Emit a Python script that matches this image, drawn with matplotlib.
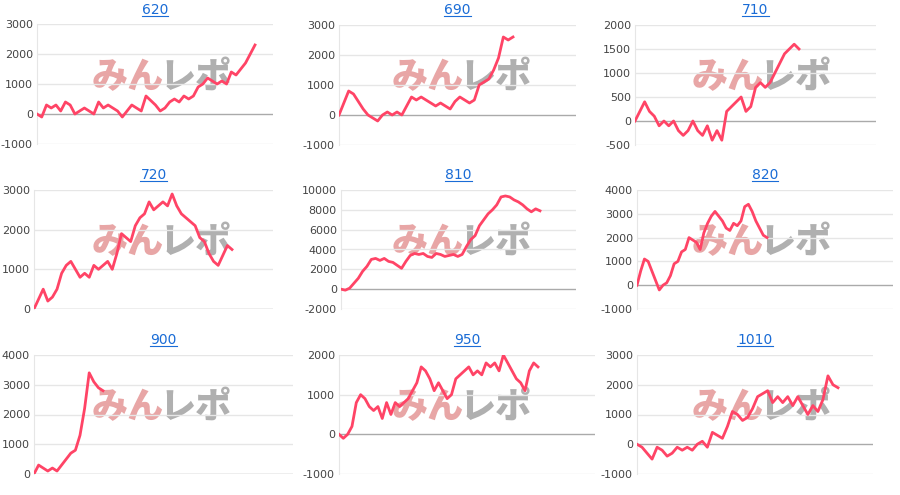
import matplotlib
matplotlib.use("Agg")
import matplotlib.pyplot as plt
from matplotlib.lines import Line2D

titles = ["620", "690", "710", "720", "810", "820", "900", "950", "1010"]

s620 = [0, -100, 300, 200, 300, 100, 400, 300, 0, 100, 200, 100, 0, 400, 200, 300, 200, 100, -100, 100,
        300, 200, 100, 600, 450, 300, 100, 200, 400, 500, 400, 600, 500, 600, 900, 1000, 1200, 1100, 1000,
        1100, 1000, 1400, 1300, 1500, 1700, 2000, 2300]
s690 = [0, 400, 800, 700, 450, 200, 0, -100, -200, 0, 100, 0, 100, 0, 300, 600, 500, 600, 500, 400, 300,
        400, 300, 200, 450, 600, 500, 400, 500, 1000, 1100, 1200, 1500, 1900, 2600, 2500, 2600]
s710 = [0, 200, 400, 200, 100, -100, 0, -100, 0, -200, -300, -200, 0, -200, -300, -100, -400, -200, -400,
        200, 300, 400, 500, 200, 300, 700, 800, 700, 800, 1000, 1200, 1400, 1500, 1600, 1500]
s720 = [0, 250, 500, 200, 300, 500, 900, 1100, 1200, 1000, 800, 900, 800, 1100, 1000, 1100, 1200, 1000,
        1400, 1900, 1800, 1700, 2100, 2300, 2400, 2700, 2500, 2600, 2700, 2600, 2900, 2600, 2400, 2300,
        2200, 2100, 1800, 1700, 1400, 1200, 1100, 1350, 1600, 1500]
s810 = [0, -100, 100, 600, 1100, 1800, 2300, 3000, 3100, 2900, 3100, 2800, 2700, 2400, 2100, 2800, 3400,
        3600, 3500, 3600, 3300, 3200, 3600, 3500, 3300, 3400, 3500, 3300, 3500, 4300, 5000, 5400, 6400,
        7000, 7600, 8000, 8500, 9300, 9400, 9300, 9000, 8800, 8500, 8100, 7800, 8100, 7900]
s820 = [0, 600, 1100, 1000, 600, 200, -200, 0, 100, 400, 900, 1000, 1400, 1500, 2000, 1900, 1800, 1500,
        2200, 2600, 2900, 3100, 2900, 2700, 2400, 2300, 2600, 2500, 2700, 3300, 3400, 3100, 2700, 2400,
        2100, 2000]
s900 = [0, 300, 200, 100, 200, 100, 300, 500, 700, 800, 1300, 2200, 3400, 3100, 2900, 2800]
s950 = [0, -100, 0, 200, 800, 1000, 900, 700, 600, 700, 400, 800, 500, 800, 700, 800, 900, 1100, 1300,
        1700, 1600, 1400, 1100, 1300, 1100, 900, 1000, 1400, 1500, 1600, 1700, 1500, 1600, 1500, 1800,
        1700, 1800, 1600, 2000, 1800, 1600, 1400, 1300, 1100, 1600, 1800, 1700]
s1010 = [0, -100, -300, -500, -100, -200, -400, -300, -100, -200, -100, -200, 0, 100, -100, 400, 300, 200,
         600, 1100, 1000, 800, 900, 1200, 1600, 1700, 1800, 1400, 1600, 1400, 1600, 1300, 1600, 1300, 1000,
         1300, 1100, 1500, 2300, 2000, 1900]
series = [s620, s690, s710, s720, s810, s820, s900, s950, s1010]

yticks = [[-1000, 0, 1000, 2000, 3000], [-1000, 0, 1000, 2000, 3000], [-500, 0, 500, 1000, 1500, 2000],
          [0, 1000, 2000, 3000], [-2000, 0, 2000, 4000, 6000, 8000, 10000], [-1000, 0, 1000, 2000, 3000, 4000],
          [0, 1000, 2000, 3000, 4000], [-1000, 0, 1000, 2000], [-1000, 0, 1000, 2000, 3000]]

W, H = 900, 495
boxes = [(37, 273, 24, 144, 255), (339, 576, 25, 145, 513), (635, 876, 25, 145, 799),
         (34, 273, 190, 309, 232), (341, 576, 190, 309, 540), (637, 893, 190, 309, 767),
         (34, 293, 355, 474, 103), (339, 595, 355, 474, 538), (637, 873, 355, 474, 838)]
origins = [(0, 0), (300, 0), (600, 0), (0, 165), (300, 165), (600, 165), (0, 330), (300, 330), (600, 330)]

fig = plt.figure(figsize=(9, 4.95), dpi=100)
fig.patch.set_facecolor("white")
titles_txt = []
jp = ["Noto Sans CJK JP", "DejaVu Sans"]
for i, (s, t, yt, b) in enumerate(zip(series, titles, yticks, boxes)):
    l, r, tp, bt, xe = b
    ax = fig.add_axes([l / W, 1 - bt / H, (r - l) / W, (bt - tp) / H])
    ax.set_zorder(2)
    x = list(range(len(s)))
    ax.plot(x, s, color="#ff4466", lw=2, zorder=3)
    n = len(s) - 1
    ax.set_xlim(0, n * (r - l) / (xe - l))
    ax.set_ylim(yt[0], yt[-1])
    ax.set_yticks(yt)
    ax.set_yticklabels([str(v) for v in yt])
    ax.set_xticks([])
    for v in yt:
        ax.axhline(v, color="#aaaaaa" if v == 0 else "#e6e6e6", lw=1, zorder=1)
    for sp in ["top", "right", "bottom"]:
        ax.spines[sp].set_visible(False)
    ax.spines["left"].set_color("#e6e6e6")
    ax.tick_params(axis="y", length=0, labelsize=8, labelcolor="#444444", pad=3)
    ax.set_facecolor("none")
    ox, oy = origins[i]
    txt = fig.text(((l + r) / 2) / W, 1 - (oy + 10) / H, t,
                   ha="center", va="center", fontsize=10, color="#1a6cd6")
    titles_txt.append(txt)
    fig.text((ox + 92) / W, 1 - (oy + 77) / H, "みん", fontsize=26, fontweight="black",
             color="#e8a6a6", family=jp, va="center", zorder=0)
    fig.text((ox + 160) / W, 1 - (oy + 77) / H, "レポ", fontsize=26, fontweight="black",
             color="#b0b0b0", family=jp, va="center", zorder=0)

fig.canvas.draw()
rend = fig.canvas.get_renderer()
for txt in titles_txt:
    bb = txt.get_window_extent(rend).transformed(fig.transFigure.inverted())
    fig.add_artist(Line2D([bb.x0, bb.x1], [bb.y0 + 0.003, bb.y0 + 0.003], color="#1a6cd6", lw=0.8,
                          transform=fig.transFigure))

fig.savefig("out.png", dpi=100)
